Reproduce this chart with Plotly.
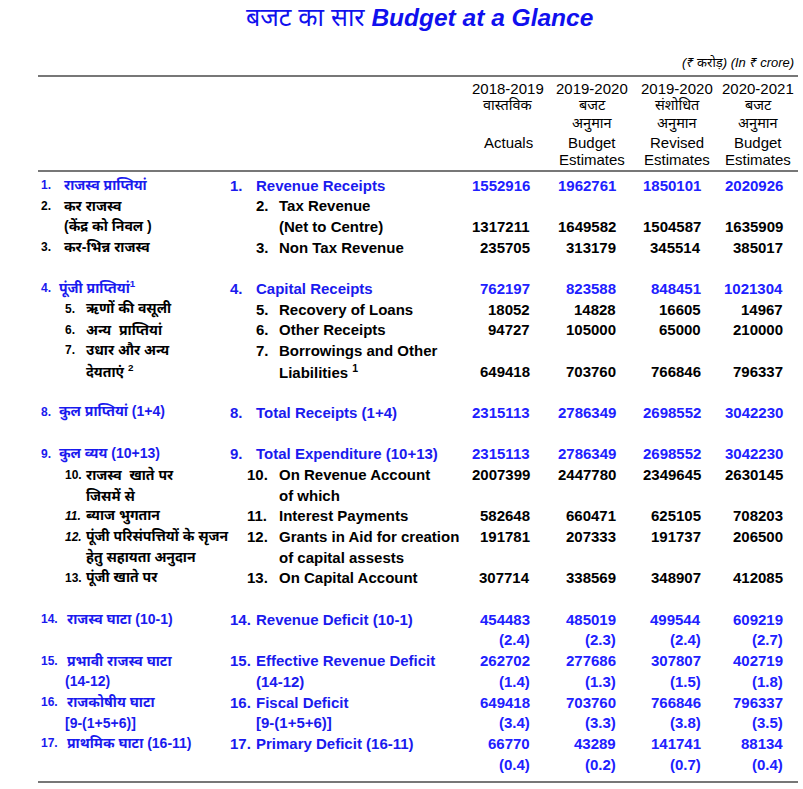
import plotly.graph_objects as go

# ---------------- data ----------------
title_hi = "बजट का सार"
title_en = "Budget at a Glance"
unit_note = "(₹ करोड़) (In ₹ crore)"

col_years = ["2018-2019", "2019-2020", "2019-2020", "2020-2021"]
col_hi_1 = ["वास्तविक", "बजट", "संशोधित", "बजट"]
col_hi_2 = ["", "अनुमान", "अनुमान", "अनुमान"]
col_en_1 = ["Actuals", "Budget", "Revised", "Budget"]
col_en_2 = ["", "Estimates", "Estimates", "Estimates"]

# value rows: line index in table, values for 4 columns
row_lines = [0, 2, 3, 5, 6, 7, 9, 11, 13, 14, 16, 17, 19, 21, 23, 25, 27]
actuals_2018_19 = [1552916, 1317211, 235705, 762197, 18052, 94727, 649418, 2315113,
                   2315113, 2007399, 582648, 191781, 307714, 454483, 262702, 649418, 66770]
be_2019_20 = [1962761, 1649582, 313179, 823588, 14828, 105000, 703760, 2786349,
              2786349, 2447780, 660471, 207333, 338569, 485019, 277686, 703760, 43289]
re_2019_20 = [1850101, 1504587, 345514, 848451, 16605, 65000, 766846, 2698552,
              2698552, 2349645, 625105, 191737, 348907, 499544, 307807, 766846, 141741]
be_2020_21 = [2020926, 1635909, 385017, 1021304, 14967, 210000, 796337, 3042230,
              3042230, 2630145, 708203, 206500, 412085, 609219, 402719, 796337, 88134]
row_blue = [True, False, False, True, False, False, False, True,
            True, False, False, False, False, True, True, True, True]

# percentage of GDP rows (deficits)
pct_lines = [22, 24, 26, 28]
pct_2018_19 = [2.4, 1.4, 3.4, 0.4]
pct_be_2019_20 = [2.3, 1.3, 3.3, 0.2]
pct_re_2019_20 = [2.4, 1.5, 3.8, 0.7]
pct_be_2020_21 = [2.7, 1.8, 3.5, 0.4]

# labels: (line, number, text, level, blue, italic)
hindi_labels = [
    (0, "1.", "राजस्व प्राप्तियां", 0, True, False),
    (1, "2.", "कर राजस्व", 0, False, False),
    (2, "", "(केंद्र को निवल )", 0, False, False),
    (3, "3.", "कर-भिन्न राजस्व", 0, False, False),
    (5, "4.", "पूंजी प्राप्तियां<sup>1</sup>", 2, True, False),
    (6, "5.", "ऋणों की वसूली", 1, False, False),
    (7, "6.", "अन्य  प्राप्तियां", 1, False, False),
    (8, "7.", "उधार और अन्य", 1, False, False),
    (9, "", "देयताएं <sup>2</sup>", 1, False, False),
    (11, "8.", "कुल प्राप्तियां (1+4)", 2, True, False),
    (13, "9.", "कुल व्यय (10+13)", 2, True, False),
    (14, "10.", "राजस्व  खाते पर", 1, False, False),
    (15, "", "जिसमें से", 1, False, False),
    (16, "11.", "ब्याज भुगतान", 1, False, True),
    (17, "12.", "पूंजी परिसंपत्तियों के सृजन", 1, False, True),
    (18, "", "हेतु सहायता अनुदान", 1, False, False),
    (19, "13.", "पूंजी खाते पर", 1, False, False),
    (21, "14.", "राजस्व घाटा (10-1)", 3, True, False),
    (23, "15.", "प्रभावी राजस्व घाटा", 3, True, False),
    (24, "", "(14-12)", 4, True, False),
    (25, "16.", "राजकोषीय घाटा", 3, True, False),
    (26, "", "[9-(1+5+6)]", 4, True, False),
    (27, "17.", "प्राथमिक घाटा (16-11)", 3, True, False),
]

english_labels = [
    (0, "1.", "Revenue Receipts", 0, True),
    (1, "2.", "Tax Revenue", 1, False),
    (2, "", "(Net to Centre)", 1, False),
    (3, "3.", "Non Tax Revenue", 1, False),
    (5, "4.", "Capital Receipts", 0, True),
    (6, "5.", "Recovery of Loans", 1, False),
    (7, "6.", "Other Receipts", 1, False),
    (8, "7.", "Borrowings and Other", 1, False),
    (9, "", "Liabilities <sup>1</sup>", 1, False),
    (11, "8.", "Total Receipts (1+4)", 0, True),
    (13, "9.", "Total Expenditure (10+13)", 0, True),
    (14, "10.", "On Revenue Account", 2, False),
    (15, "", "of which", 2, False),
    (16, "11.", "Interest Payments", 2, False),
    (17, "12.", "Grants in Aid for creation", 2, False),
    (18, "", "of capital assests", 2, False),
    (19, "13.", "On Capital Account", 2, False),
    (21, "14.", "Revenue Deficit (10-1)", 0, True),
    (23, "15.", "Effective Revenue Deficit", 0, True),
    (24, "", "(14-12)", 0, True),
    (25, "16.", "Fiscal Deficit", 0, True),
    (26, "", "[9-(1+5+6)]", 0, True),
    (27, "17.", "Primary Deficit (16-11)", 0, True),
]

# ---------------- layout / style ----------------
W, H = 803, 789
Y0, DY = 185.0, 20.68
BLUE = "#1a1aee"
NUM_BLUE = "#2020ff"
FONT = "Liberation Sans, Arial, Noto Sans, sans-serif"
col_right = [532, 618, 703, 785]
col_center = [508, 592, 677, 758]

def ly(line):
    return Y0 + line * DY

fig = go.Figure()
ann = []

def txt(x, y, s, size=15, color="black", anchor="left", bold=False, italic=False):
    if bold:
        s = "<b>" + s + "</b>"
    if italic:
        s = "<i>" + s + "</i>"
    ann.append(dict(x=x, y=y, xref="x", yref="y", text=s, showarrow=False,
                    xanchor=anchor, yanchor="middle",
                    font=dict(family=FONT, size=size, color=color)))

# title
ann.append(dict(x=419, y=17, xref="x", yref="y", showarrow=False, xanchor="center", yanchor="middle",
                text="<i><span style='font-size:25px'>" + title_hi + "</span></i> <b><i>" + title_en + "</i></b>",
                font=dict(family=FONT, size=24.5, color="#1010ee")))
txt(796, 62, unit_note, size=13, anchor="right", italic=True)

# column headers
for i in range(4):
    c = col_center[i]
    txt(c, 88, col_years[i], size=15, anchor="center")
    txt(c, 105, col_hi_1[i], size=14.5, anchor="center")
    if col_hi_2[i]:
        txt(c, 124, col_hi_2[i], size=14.5, anchor="center")
    txt(c, 142, col_en_1[i], size=15, anchor="center")
    if col_en_2[i]:
        txt(c, 159, col_en_2[i], size=15, anchor="center")

# hindi labels
hi_num_x = [39, 63, 39, 39, 39]
hi_txt_x = [62, 84, 57, 65, 63]
for line, num, s, lvl, blue, ital in hindi_labels:
    col = BLUE if blue else "black"
    y = ly(line)
    if num:
        txt(hi_num_x[lvl], y, num, size=12, color=col, bold=True, italic=ital)
    txt(hi_txt_x[lvl], y, s, size=14, color=col, bold=True, italic=ital)

# english labels
en_num_x = [228, 254, 245]
en_txt_x = [254, 277, 277]
for line, num, s, lvl, blue in english_labels:
    col = BLUE if blue else "black"
    y = ly(line)
    if num:
        txt(en_num_x[lvl], y, num, size=15, color=col, bold=True)
    txt(en_txt_x[lvl], y, s, size=15, color=col, bold=True)

# values
series = [actuals_2018_19, be_2019_20, re_2019_20, be_2020_21]
for ci, vals in enumerate(series):
    for ri, v in enumerate(vals):
        col = NUM_BLUE if row_blue[ri] else "black"
        txt(col_right[ci], ly(row_lines[ri]), str(v), size=15, color=col, anchor="right", bold=True)

pct_series = [pct_2018_19, pct_be_2019_20, pct_re_2019_20, pct_be_2020_21]
for ci, vals in enumerate(pct_series):
    for ri, v in enumerate(vals):
        txt(col_right[ci], ly(pct_lines[ri]), "(%.1f)" % v, size=15, color=NUM_BLUE,
            anchor="right", bold=True)

# rules
for yline, wdt in [(76, 2), (171, 2), (782, 2)]:
    fig.add_shape(type="line", x0=38, x1=798, y0=yline, y1=yline, xref="x", yref="y",
                  line=dict(color="#777777", width=wdt))

fig.update_layout(
    width=W, height=H, margin=dict(l=0, r=0, t=0, b=0),
    paper_bgcolor="white", plot_bgcolor="white",
    xaxis=dict(range=[0, W], visible=False, fixedrange=True),
    yaxis=dict(range=[H, 0], visible=False, fixedrange=True),
    annotations=ann, showlegend=False,
)
fig.write_html("out.html", config={"displayModeBar": False},
               post_script="document.body.style.margin='0';document.body.style.overflow='hidden';")
